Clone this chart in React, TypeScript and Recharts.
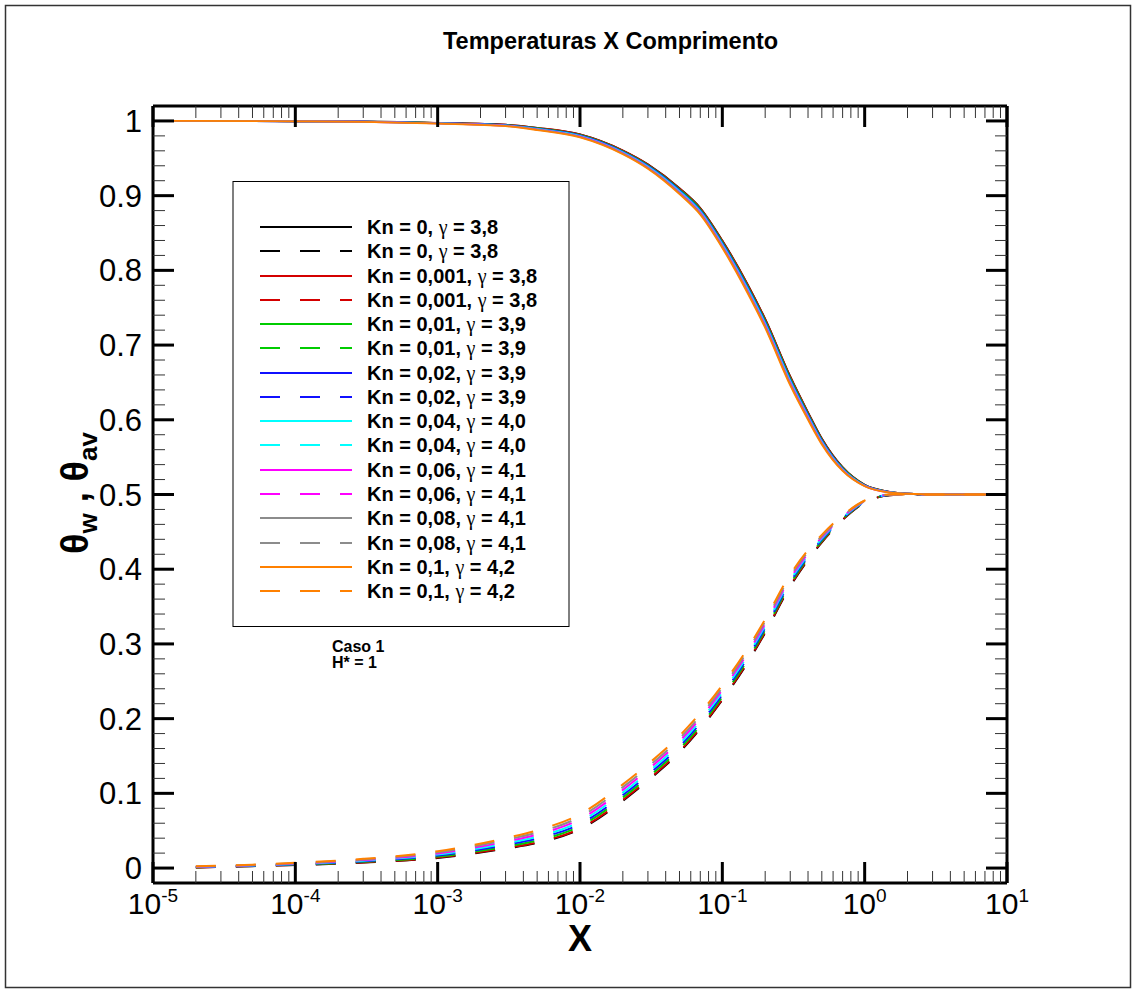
import { Line, LineChart, XAxis, YAxis } from 'recharts'

const FONT = 'Liberation Sans, Arial, Helvetica, sans-serif'

// sample positions along X (log axis)
const X_VALUES = [1e-5, 2e-5, 5e-5, 1e-4, 3e-4, 1e-3, 3e-3, 5e-3, 1e-2, 2e-2, 3e-2, 5e-2, 7e-2, 0.1, 0.15, 0.2, 0.3, 0.4, 0.5, 0.7, 1, 1.5, 2, 3, 10]

// theta_w (solid curves)
const W_KN0 = [1, 1, 0.9998, 0.9995, 0.9993, 0.9975, 0.995, 0.9908, 0.982, 0.9605, 0.942, 0.91, 0.8835, 0.84, 0.782, 0.735, 0.658, 0.61, 0.575, 0.5365, 0.513, 0.5035, 0.501, 0.5, 0.5]
const W_KN0001 = [1, 1, 0.9998, 0.9995, 0.9992, 0.9975, 0.9949, 0.9908, 0.9819, 0.9604, 0.9418, 0.9098, 0.8832, 0.8397, 0.7816, 0.7346, 0.6576, 0.6097, 0.5748, 0.5364, 0.513, 0.5035, 0.501, 0.5, 0.5]
const W_KN001 = [1, 1, 0.9998, 0.9995, 0.9992, 0.9973, 0.9946, 0.9902, 0.9812, 0.9595, 0.9408, 0.9084, 0.8817, 0.838, 0.7796, 0.7326, 0.6556, 0.608, 0.5734, 0.5355, 0.5126, 0.5033, 0.501, 0.5, 0.5]
const W_KN002 = [1, 1, 0.9998, 0.9995, 0.9991, 0.9972, 0.9943, 0.9898, 0.9806, 0.9588, 0.9399, 0.9072, 0.8804, 0.8365, 0.7778, 0.7308, 0.6538, 0.6065, 0.5722, 0.5348, 0.5123, 0.5032, 0.501, 0.5, 0.5]
const W_KN004 = [1, 1, 0.9998, 0.9995, 0.999, 0.997, 0.994, 0.9893, 0.98, 0.958, 0.939, 0.906, 0.879, 0.835, 0.776, 0.729, 0.652, 0.605, 0.571, 0.534, 0.512, 0.503, 0.501, 0.5, 0.5]
const W_KN006 = [1, 1, 0.9998, 0.9995, 0.9989, 0.9968, 0.9936, 0.9887, 0.9792, 0.957, 0.9378, 0.9044, 0.8772, 0.833, 0.7736, 0.7266, 0.6496, 0.603, 0.5694, 0.533, 0.5116, 0.5028, 0.501, 0.5, 0.5]
const W_KN008 = [1, 1, 0.9998, 0.9995, 0.9988, 0.9967, 0.9933, 0.9883, 0.9786, 0.9563, 0.9369, 0.9032, 0.8759, 0.8315, 0.7718, 0.7248, 0.6478, 0.6015, 0.5682, 0.5323, 0.5113, 0.5027, 0.501, 0.5, 0.5]
const W_KN01 = [1, 1, 0.9998, 0.9995, 0.9988, 0.9965, 0.993, 0.9878, 0.978, 0.9555, 0.936, 0.902, 0.8745, 0.83, 0.77, 0.723, 0.646, 0.6, 0.567, 0.5315, 0.511, 0.5025, 0.501, 0.5, 0.5]

// theta_av (dashed curves)
const A_KN0 = [null, 0.0008, 0.0025, 0.004, 0.0073, 0.0135, 0.026, 0.0335, 0.052, 0.09, 0.117, 0.155, 0.1865, 0.225, 0.2745, 0.315, 0.377, 0.4125, 0.436, 0.466, 0.489, 0.499, 0.5, 0.5, 0.5]
const A_KN0001 = [null, 0.0008, 0.0026, 0.0042, 0.0076, 0.014, 0.0267, 0.0344, 0.053, 0.0911, 0.1181, 0.1561, 0.1876, 0.226, 0.2755, 0.3159, 0.3778, 0.4132, 0.4365, 0.4663, 0.4892, 0.499, 0.5, 0.5, 0.5]
const A_KN001 = [null, 0.001, 0.0029, 0.0046, 0.0083, 0.0153, 0.0288, 0.0369, 0.056, 0.0944, 0.1214, 0.1594, 0.1907, 0.229, 0.2783, 0.3186, 0.3802, 0.4151, 0.438, 0.4672, 0.4896, 0.4992, 0.5, 0.5, 0.5]
const A_KN002 = [null, 0.0013, 0.0032, 0.0051, 0.0091, 0.0167, 0.0309, 0.0395, 0.059, 0.0977, 0.1247, 0.1627, 0.1939, 0.232, 0.2812, 0.3213, 0.3826, 0.4171, 0.4395, 0.4681, 0.4901, 0.4994, 0.5, 0.5, 0.5]
const A_KN004 = [null, 0.0015, 0.0035, 0.0055, 0.0098, 0.018, 0.033, 0.042, 0.062, 0.101, 0.128, 0.166, 0.197, 0.235, 0.284, 0.324, 0.385, 0.419, 0.441, 0.469, 0.4905, 0.4995, 0.5, 0.5, 0.5]
const A_KN006 = [null, 0.0018, 0.0038, 0.006, 0.0107, 0.0195, 0.0354, 0.0449, 0.0654, 0.1047, 0.1317, 0.1697, 0.2006, 0.2384, 0.2872, 0.3271, 0.3877, 0.4212, 0.4427, 0.47, 0.491, 0.4997, 0.5, 0.5, 0.5]
const A_KN008 = [null, 0.002, 0.0042, 0.0065, 0.0115, 0.021, 0.0376, 0.0476, 0.0686, 0.1083, 0.1353, 0.1733, 0.2039, 0.2416, 0.2903, 0.3299, 0.3903, 0.4233, 0.4443, 0.471, 0.4915, 0.4998, 0.5, 0.5, 0.5]
const A_KN01 = [null, 0.0023, 0.0045, 0.007, 0.0123, 0.0225, 0.04, 0.0505, 0.072, 0.112, 0.139, 0.177, 0.2075, 0.245, 0.2935, 0.333, 0.393, 0.4255, 0.446, 0.472, 0.492, 0.5, 0.5, 0.5, 0.5]

const KN_LABELS = ['0', '0,001', '0,01', '0,02', '0,04', '0,06', '0,08', '0,1']
const GAMMA_LABELS = ['3,8', '3,8', '3,9', '3,9', '4,0', '4,1', '4,1', '4,2']
const COLORS = ['#000000', '#d40000', '#00cc00', '#1010ff', '#00ffff', '#ff00ff', '#8c8c8c', '#ff8000']
const W_SERIES = [W_KN0, W_KN0001, W_KN001, W_KN002, W_KN004, W_KN006, W_KN008, W_KN01]
const A_SERIES = [A_KN0, A_KN0001, A_KN001, A_KN002, A_KN004, A_KN006, A_KN008, A_KN01]

const X_MAJOR = [1e-5, 1e-4, 1e-3, 1e-2, 1e-1, 1, 10]
const X_EXP = ['-5', '-4', '-3', '-2', '-1', '0', '1']
const Y_MAJOR = [0, 0.1, 0.2, 0.3, 0.4, 0.5, 0.6, 0.7, 0.8, 0.9, 1]
const Y_LABELS = ['0', '0.1', '0.2', '0.3', '0.4', '0.5', '0.6', '0.7', '0.8', '0.9', '1']

const X_MINOR = X_MAJOR.slice(0, -1).flatMap((d) => [2, 3, 4, 5, 6, 7, 8, 9].map((m) => d * m))
const Y_MINOR = Y_MAJOR.slice(0, -1).flatMap((v) => [1, 2, 3, 4].map((j) => v + j * 0.02))
const X_TICKS = [...X_MAJOR, ...X_MINOR]
const Y_TICKS = [...Y_MAJOR, ...Y_MINOR]

const data = X_VALUES.map((x, i) => {
  const row: Record<string, number | null> = { x }
  W_SERIES.forEach((s, k) => (row[`w${k}`] = s[i]))
  A_SERIES.forEach((s, k) => (row[`a${k}`] = s[i]))
  return row
})

const MAJOR_LEN = 21
const MINOR_LEN = 12

function tickStyle(major: boolean) {
  return major
    ? { stroke: '#000', strokeWidth: 3 }
    : { stroke: '#333', strokeWidth: 1 }
}

function BottomTick({ x, y, payload }: any) {
  const idx = X_MAJOR.indexOf(payload.value)
  const major = idx >= 0
  return (
    <g>
      <line x1={x} x2={x} y1={y} y2={y - (major ? MAJOR_LEN : MINOR_LEN)} {...tickStyle(major)} />
      {major && (
        <text x={x} y={y + 31} textAnchor="middle" fontSize={30} fontFamily={FONT} fill="#000">
          10
          <tspan fontSize={19} dy={-12}>
            {X_EXP[idx]}
          </tspan>
        </text>
      )}
    </g>
  )
}

function TopTick({ x, y, payload }: any) {
  const major = X_MAJOR.includes(payload.value)
  return <line x1={x} x2={x} y1={y} y2={y + (major ? MAJOR_LEN : MINOR_LEN)} {...tickStyle(major)} />
}

function LeftTick({ x, y, payload }: any) {
  const idx = Y_MAJOR.indexOf(payload.value)
  const major = idx >= 0
  return (
    <g>
      <line x1={x} x2={x + (major ? MAJOR_LEN : MINOR_LEN)} y1={y} y2={y} {...tickStyle(major)} />
      {major && (
        <text x={x - 11} y={y + 11} textAnchor="end" fontSize={31} fontFamily={FONT} fill="#000">
          {Y_LABELS[idx]}
        </text>
      )}
    </g>
  )
}

function RightTick({ x, y, payload }: any) {
  const major = Y_MAJOR.includes(payload.value)
  return <line x1={x} x2={x - (major ? MAJOR_LEN : MINOR_LEN)} y1={y} y2={y} {...tickStyle(major)} />
}

const AXIS_LINE = { stroke: '#000', strokeWidth: 3 }

function Overlay() {
  const rowY = (i: number) => Math.round(227 + i * 24.27)
  return (
    <svg
      width={1135}
      height={992}
      style={{ position: 'absolute', left: 0, top: 0, pointerEvents: 'none' }}
      fontFamily={FONT}
    >
      <rect x={5.5} y={5.5} width={1125} height={982} fill="none" stroke="#333" strokeWidth={1.5} />
      <text x={443} y={49} fontSize={23.5} fontWeight="bold" fill="#000">
        Temperaturas X Comprimento
      </text>
      <text x={580} y={951} textAnchor="middle" fontSize={36} fontWeight="bold" fill="#000">
        X
      </text>
      <text transform="translate(88,493) rotate(-90)" textAnchor="middle" fontSize={38} fontWeight="bold" fill="#000">
        θ
        <tspan fontSize={26} dy={9}>w</tspan>
        <tspan dy={-9}>{' , θ'}</tspan>
        <tspan fontSize={26} dy={9}>av</tspan>
      </text>

      <rect x={233} y={181.5} width={336} height={445} fill="#fff" stroke="#000" strokeWidth={1} />
      {KN_LABELS.flatMap((kn, k) =>
        [0, 1].map((d) => {
          const i = k * 2 + d
          const y = rowY(i)
          return (
            <g key={i}>
              <line
                x1={260}
                x2={352}
                y1={y}
                y2={y}
                stroke={COLORS[k]}
                strokeWidth={2}
                strokeDasharray={d ? '20 20' : undefined}
              />
              <text x={367} y={y + 7} fontSize={20} fontWeight="bold" fill="#000">
                {`Kn = ${kn}, `}
                <tspan fontWeight="normal" fontFamily="Liberation Serif, serif">γ</tspan>
                {` = ${GAMMA_LABELS[k]}`}
              </text>
            </g>
          )
        })
      )}
      <text x={332} y={652} fontSize={16} fontWeight="bold" fill="#000">
        Caso 1
      </text>
      <text x={332} y={668} fontSize={16} fontWeight="bold" fill="#000">
        H* = 1
      </text>
    </svg>
  )
}

export default function App() {
  return (
    <div style={{ position: 'absolute', left: 0, top: 0, width: 1135, height: 992, background: '#fff' }}>
      <LineChart width={1135} height={992} data={data} margin={{ top: 76, right: 68, bottom: 79, left: 93 }}>
        <XAxis
          dataKey="x"
          type="number"
          scale="log"
          domain={[1e-5, 10]}
          allowDataOverflow
          ticks={X_TICKS}
          interval={0}
          tickSize={0}
          tickMargin={0}
          tickLine={false}
          axisLine={AXIS_LINE}
          height={30}
          tick={<BottomTick />}
        />
        <XAxis
          xAxisId="top"
          orientation="top"
          dataKey="x"
          type="number"
          scale="log"
          domain={[1e-5, 10]}
          allowDataOverflow
          ticks={X_TICKS}
          interval={0}
          tickSize={0}
          tickMargin={0}
          tickLine={false}
          axisLine={AXIS_LINE}
          height={30}
          tick={<TopTick />}
        />
        <YAxis
          type="number"
          domain={[-0.02, 1.02]}
          allowDataOverflow
          ticks={Y_TICKS}
          interval={0}
          tickSize={0}
          tickMargin={0}
          tickLine={false}
          axisLine={AXIS_LINE}
          width={60}
          tick={<LeftTick />}
        />
        <YAxis
          yAxisId="right"
          orientation="right"
          type="number"
          domain={[-0.02, 1.02]}
          allowDataOverflow
          ticks={Y_TICKS}
          interval={0}
          tickSize={0}
          tickMargin={0}
          tickLine={false}
          axisLine={AXIS_LINE}
          width={60}
          tick={<RightTick />}
        />
        {KN_LABELS.flatMap((kn, k) => [
          <Line
            key={`w${k}`}
            dataKey={`w${k}`}
            type="monotone"
            stroke={COLORS[k]}
            strokeWidth={1.8}
            dot={false}
            activeDot={false}
            isAnimationActive={false}
          />,
          <Line
            key={`a${k}`}
            dataKey={`a${k}`}
            type="monotone"
            stroke={COLORS[k]}
            strokeWidth={2}
            strokeDasharray="20 20"
            dot={false}
            activeDot={false}
            isAnimationActive={false}
          />,
        ])}
      </LineChart>
      <Overlay />
    </div>
  )
}
